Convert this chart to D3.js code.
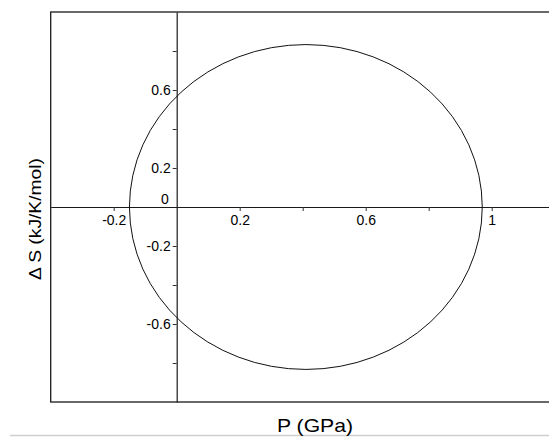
<!DOCTYPE html>
<html>
<head>
<meta charset="utf-8">
<script src="https://cdn.jsdelivr.net/npm/d3@7"></script>
<style>
  html, body { margin: 0; padding: 0; background: #fff; }
  svg { display: block; }
  text { font-family: "Liberation Sans", Arial, sans-serif; fill: #000; }
</style>
</head>
<body>
<svg id="chart" width="549" height="437"></svg>
<script>
// Axis extents (P in GPa, ΔS in kJ/K/mol)
const xDomain = [-0.4, 1.2];
const yDomain = [-1, 1];

// Tick positions and the labels printed at them
const xTicks = [-0.2, 0.2, 0.4, 0.6, 0.8, 1.0];
const xTickLabels = ["-0.2", "0.2", "", "0.6", "", "1"];
const yTicks = [0.8, 0.6, 0.4, 0.2, -0.2, -0.4, -0.6, -0.8];
const yTickLabels = ["", "0.6", "", "0.2", "-0.2", "", "-0.6", ""];

// Closed curve: centre and semi-axes in data units
const curveCenter = [0.41, 0.0];     // [P, ΔS]
const curveSemiAxes = [0.56, 0.833]; // [along P, along ΔS]

const xTitle = "P (GPa)";
const yTitle = "\u0394 S (kJ/K/mol)";

const svg = d3.select("#chart");

const frame = { left: 50.7, top: 12, right: 554.7, bottom: 402 };

const x = d3.scaleLinear().domain(xDomain).range([frame.left, frame.right]);
const y = d3.scaleLinear().domain(yDomain).range([frame.bottom, frame.top]);

// light rule along the bottom of the page
svg.append("line")
  .attr("x1", 10).attr("x2", 549)
  .attr("y1", 435.5).attr("y2", 435.5)
  .attr("stroke", "#cfcfcf").attr("stroke-width", 1.3);

// plot frame
svg.append("rect")
  .attr("x", frame.left).attr("y", frame.top)
  .attr("width", frame.right - frame.left)
  .attr("height", frame.bottom - frame.top)
  .attr("fill", "none").attr("stroke", "#1a1a1a").attr("stroke-width", 1.3);

const tickFont = "14px";

// horizontal axis through ΔS = 0
const xAxis = d3.axisBottom(x)
  .tickValues(xTicks)
  .tickFormat((d, i) => xTickLabels[i])
  .tickSizeInner(4).tickSizeOuter(0).tickPadding(4);

const gx = svg.append("g")
  .attr("transform", `translate(0,${y(0)})`)
  .call(xAxis);
gx.select(".domain").attr("stroke", "#1a1a1a").attr("stroke-width", 1.2);
gx.selectAll(".tick line").attr("stroke", "#333");
gx.selectAll(".tick text")
  .style("font-family", '"Liberation Sans", Arial, sans-serif')
  .style("font-size", tickFont).attr("fill", "#000");

// vertical axis through P = 0
const yAxis = d3.axisLeft(y)
  .tickValues(yTicks)
  .tickFormat((d, i) => yTickLabels[i])
  .tickSizeInner(4).tickSizeOuter(0).tickPadding(2);

const gy = svg.append("g")
  .attr("transform", `translate(${x(0)},0)`)
  .call(yAxis);
gy.select(".domain").attr("stroke", "#1a1a1a").attr("stroke-width", 1.2);
gy.selectAll(".tick line").attr("stroke", "#333");
gy.selectAll(".tick text")
  .style("font-family", '"Liberation Sans", Arial, sans-serif')
  .style("font-size", tickFont).attr("fill", "#000");

// origin label sits above the horizontal axis
svg.append("text")
  .attr("x", x(0) - 8).attr("y", y(0) - 3)
  .attr("text-anchor", "end")
  .style("font-size", tickFont)
  .text("0");

// the closed curve
svg.append("ellipse")
  .attr("cx", x(curveCenter[0]))
  .attr("cy", y(curveCenter[1]))
  .attr("rx", x(curveCenter[0] + curveSemiAxes[0]) - x(curveCenter[0]))
  .attr("ry", y(curveCenter[1]) - y(curveCenter[1] + curveSemiAxes[1]))
  .attr("fill", "none")
  .attr("stroke", "#111")
  .attr("stroke-width", 1);

// axis titles
svg.append("text")
  .attr("x", 315).attr("y", 432)
  .attr("text-anchor", "middle")
  .attr("textLength", 76)
  .attr("lengthAdjust", "spacingAndGlyphs")
  .style("font-size", "19px")
  .text(xTitle);

svg.append("text")
  .attr("transform", "translate(41,219) rotate(-90)")
  .attr("text-anchor", "middle")
  .attr("textLength", 122)
  .attr("lengthAdjust", "spacingAndGlyphs")
  .style("font-size", "17px")
  .text(yTitle);
</script>
</body>
</html>
